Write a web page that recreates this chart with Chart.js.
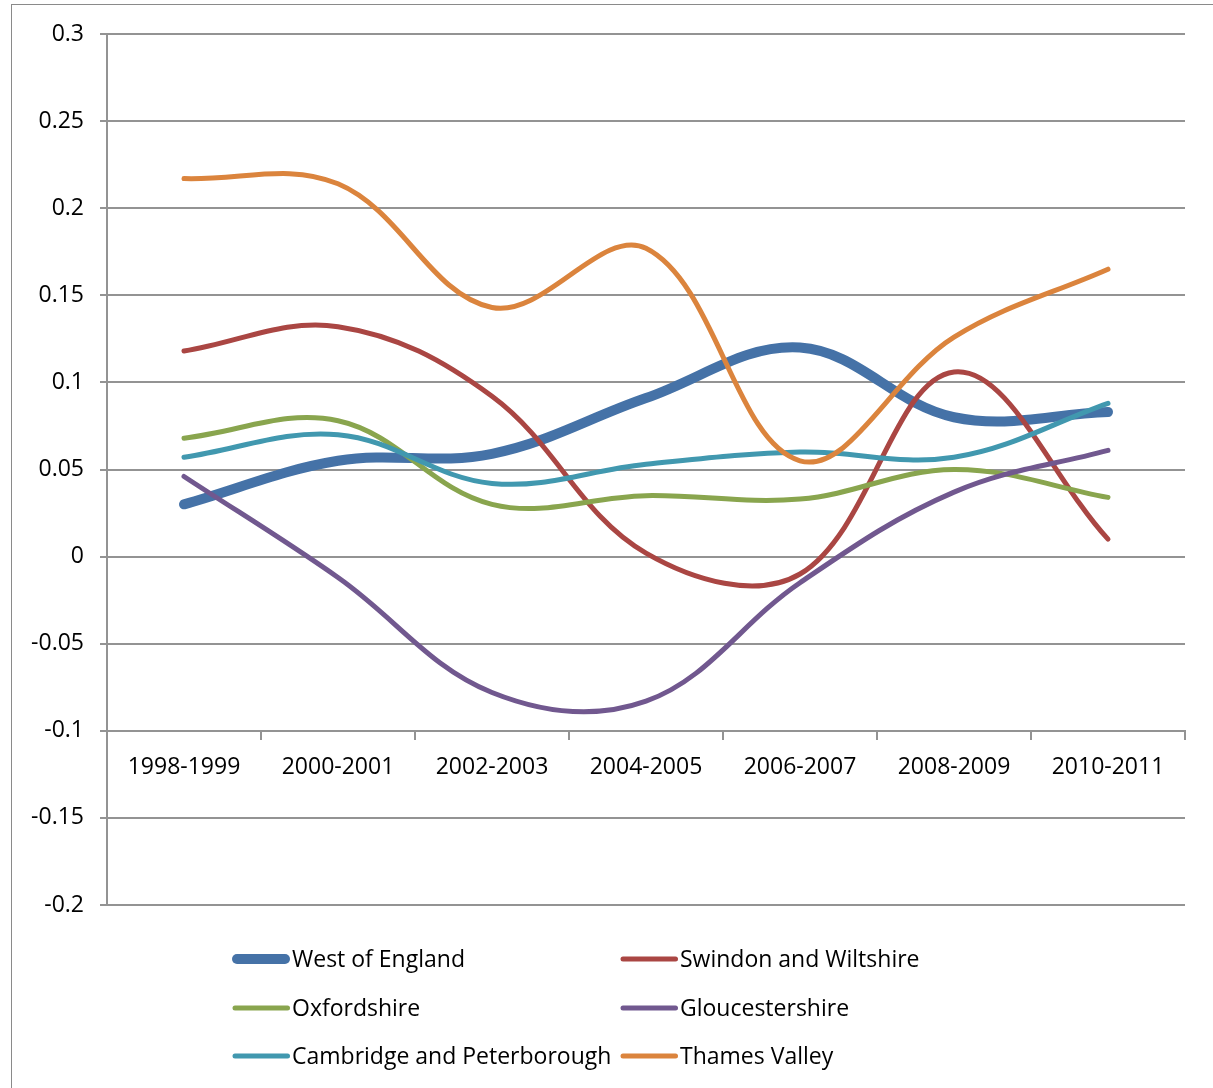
<!DOCTYPE html>
<html>
<head>
<meta charset="utf-8">
<title>Regional gap by period</title>
<script src="https://cdn.jsdelivr.net/npm/chart.js@4.4.1/dist/chart.umd.min.js"></script>
<style>
  html, body { margin: 0; padding: 0; background: #fff; }
  #wrap { position: relative; width: 1213px; height: 1088px; overflow: hidden; }
  #frame { position: absolute; left: 11px; top: 4px; width: 1400px; height: 1300px; border: 1px solid #8a8a8a; box-sizing: border-box; }
  #chart { position: absolute; left: 0; top: 0; }
</style>
</head>
<body>
<div id="wrap">
  <div id="frame"></div>
  <canvas id="chart" width="1213" height="1088"></canvas>
</div>
<script>
// periods on the category axis
const periods = ['1998-1999', '2000-2001', '2002-2003', '2004-2005', '2006-2007', '2008-2009', '2010-2011'];

// one array per LEP area
const westOfEngland      = [0.030, 0.055, 0.059, 0.091, 0.120, 0.080, 0.083];
const swindonWiltshire   = [0.118, 0.132, 0.092, 0.002, -0.010, 0.106, 0.010];
const oxfordshire        = [0.068, 0.078, 0.030, 0.035, 0.033, 0.050, 0.034];
const gloucestershire    = [0.046, -0.012, -0.078, -0.083, -0.015, 0.037, 0.061];
const cambridgePeterboro = [0.057, 0.070, 0.042, 0.053, 0.060, 0.057, 0.088];
const thamesValley       = [0.217, 0.214, 0.143, 0.177, 0.055, 0.126, 0.165];

const seriesNames = ['West of England', 'Swindon and Wiltshire', 'Oxfordshire', 'Gloucestershire', 'Cambridge and Peterborough', 'Thames Valley'];
const seriesData = [westOfEngland, swindonWiltshire, oxfordshire, gloucestershire, cambridgePeterboro, thamesValley];
const seriesColors = ['#4572A7', '#AA4643', '#89A54E', '#71588F', '#4198AF', '#DB843D'];
const seriesWidths = [10, 5, 5, 5, 5, 5];

const GRID = '#939393';
const FONT = '"Open Sans", "Noto Sans", sans-serif';
const FONT_SIZE = 23;

// two-column legend under the plot, drawn on the canvas
const gridLegend = {
  id: 'gridLegend',
  afterDraw(chart) {
    const ctx = chart.ctx;
    const cols = [232, 620];
    const rows = [959, 1008, 1056];
    chart.data.datasets.forEach((ds, i) => {
      const x = cols[i % 2];
      const y = rows[Math.floor(i / 2)];
      const half = ds.borderWidth / 2;
      ctx.save();
      ctx.strokeStyle = ds.borderColor;
      ctx.lineWidth = ds.borderWidth;
      ctx.lineCap = 'round';
      ctx.beginPath();
      ctx.moveTo(x + Math.max(half, 3), y);
      ctx.lineTo(x + 58 - half, y);
      ctx.stroke();
      ctx.fillStyle = '#000';
      ctx.font = FONT_SIZE + 'px ' + FONT;
      ctx.textBaseline = 'middle';
      ctx.fillText(ds.label, x + 60, y + 1);
      ctx.restore();
    });
  }
};

new Chart(document.getElementById('chart'), {
  type: 'line',
  data: {
    labels: periods,
    datasets: seriesNames.map((name, i) => ({
      label: name,
      data: seriesData[i],
      borderColor: seriesColors[i],
      backgroundColor: seriesColors[i],
      borderWidth: seriesWidths[i],
      borderCapStyle: 'round',
      borderJoinStyle: 'round',
      pointRadius: 0,
      tension: 0.37,
      fill: false,
      order: seriesNames.length - i
    }))
  },
  options: {
    responsive: false,
    animation: false,
    layout: { padding: { top: 34, right: 28, bottom: 183, left: 0 } },
    plugins: {
      legend: { display: false },
      tooltip: { enabled: false }
    },
    scales: {
      x: {
        position: { y: -0.1 },
        offset: true,
        afterFit(s) { s.height = 0; },
        grid: { drawOnChartArea: false, drawTicks: true, tickLength: 8, offset: true, color: GRID, lineWidth: 2 },
        border: { display: true, color: GRID, width: 2 },
        ticks: { color: '#000', font: { family: FONT, size: FONT_SIZE }, padding: 15, maxRotation: 0, autoSkip: false }
      },
      y: {
        min: -0.2,
        max: 0.3,
        afterFit(s) { s.width = 107; },
        grid: { color: GRID, lineWidth: 2, drawTicks: true, tickLength: 7 },
        border: { display: true, color: GRID, width: 2 },
        ticks: {
          stepSize: 0.05,
          color: '#000',
          font: { family: FONT, size: FONT_SIZE },
          padding: 16,
          callback: v => String(+v.toFixed(2))
        }
      }
    }
  },
  plugins: [gridLegend]
});
</script>
</body>
</html>
